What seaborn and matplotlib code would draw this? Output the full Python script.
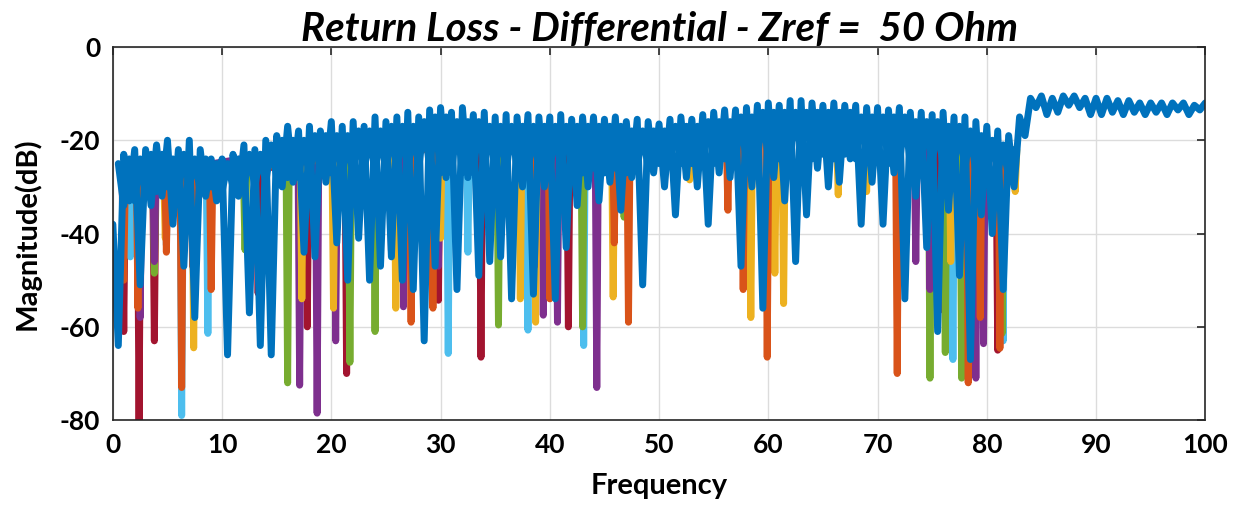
import numpy as np
import pandas as pd
import matplotlib
matplotlib.use("Agg")
import matplotlib.pyplot as plt
import seaborn as sns

blue_freq = np.arange(0, 100.01, 0.5)
blue_db = [
    # 0 - 9.5
    -38, -64, -23, -33, -22, -51, -22, -34, -21, -32, -20, -38, -22, -47, -20, -58, -22, -32, -24, -33,
    # 10 - 19.5
    -24, -66, -23, -32, -21, -57, -22, -64, -20, -66, -19, -30, -17, -29, -18, -44, -17, -45, -18, -29,
    # 20 - 29.5
    -16, -42, -17, -50, -16, -41, -17, -50, -15, -47, -16, -45, -15, -50, -14, -52, -15, -63, -13.5, -47,
    # 30 - 39.5
    -13, -28, -14, -52, -13, -28, -14.5, -49, -14, -46, -15, -45, -14.5, -54, -15, -30, -14.5, -53, -15, -30,
    # 40 - 49.5
    -15, -54, -14.5, -43, -15.5, -34, -15, -30, -15, -33, -15.5, -29, -15, -35, -16, -28, -15.5, -51, -16, -27,
    # 50 - 59.5
    -16.5, -30, -15.5, -36, -15, -28, -15.5, -30, -14.5, -38, -14, -27, -13.5, -28, -13.5, -47, -13, -30, -12.5, -56,
    # 60 - 69.5
    -12, -28, -12.5, -33, -11.5, -46, -11.5, -36, -12, -26, -12.5, -30, -12, -29, -12.5, -24, -12.5, -38, -13, -29,
    # 70 - 79.5
    -13, -38, -13.5, -27, -13, -54, -14, -32, -14, -43, -14.5, -61, -14, -35, -15, -49, -15, -67, -16, -36,
    # 80 - 89.5
    -17, -40, -18, -52, -19, -30, -15, -19, -11, -13, -10.5, -14.5, -11, -14, -10.5, -12.5, -10.5, -13, -11, -14.5,
    # 90 - 100
    -11, -14.5, -11, -14, -11.5, -14.5, -11.5, -14, -12, -14.5, -12, -14, -12, -14.5, -12, -13.5, -12, -14.5, -12.5, -13.5,
    -12,
]

# Second blue trace (same colour in the original), ripple in opposite phase, 0.5 .. 82.5 GHz
blue2_freq = np.arange(0.5, 82.51, 0.5)
blue2_db = [
    -25, -34, -24, -33, -24, -32, -23, -31, -23, -30, -24, -31, -23, -30, -24, -31, -24, -30, -25, -31,
    -25, -30, -24, -30, -23, -30, -23, -29, -21, -28, -20, -28, -20, -28, -20, -28, -19, -27, -19, -27,
    -19, -28, -19, -28, -18, -27, -18, -27, -18, -27, -17, -27, -17, -27, -17, -26, -16, -26, -15, -27,
    -15, -27, -16, -27, -16, -27, -16, -26, -17, -27, -17, -27, -17, -26, -17, -27, -17, -27, -17, -27,
    -17, -26, -17, -27, -17, -27, -17, -26, -17, -27, -17, -26, -17, -27, -18, -26, -18, -26, -18, -25,
    -18, -25, -17, -25, -17, -25, -17, -24, -16, -25, -16, -24, -16, -24, -15, -25, -15, -24, -14, -24,
    -14, -24, -14, -24, -14, -23, -14, -24, -14, -23, -14, -24, -14, -23, -14, -24, -15, -24, -15, -24,
    -15, -25, -15, -25, -15, -25, -16, -25, -16, -25, -16, -26, -17, -26, -17, -26, -18, -27, -19, -27,
    -20, -27, -21, -28, -22,
]

# Other traces: only their notches that reach below the blue band (GHz, dB)
orange_f = [1.0, 2.3, 4.9, 6.3, 7.3, 9.0, 27.3, 29.3, 38.6, 40.0, 45.9, 47.2, 56.3, 57.7, 59.9, 71.8, 78.3, 79.4, 81.2]
orange_db = [-50, -56, -44, -73, -47, -52, -59, -56, -47, -54, -42, -59, -35, -52, -66.5, -70, -72, -58, -64.6]

yellow_f = [4.8, 7.4, 17.3, 20.2, 25.9, 30.0, 37.3, 38.7, 45.8, 52.8, 58.4, 60.6, 61.4, 66.4, 69.0, 76.7, 82.6]
yellow_db = [-41, -64.5, -54, -56, -56, -41, -54, -59, -53.6, -28.5, -58, -48.5, -55, -31.7, -31, -46, -31]

purple_f = [2.5, 3.8, 17.1, 18.7, 20.4, 26.6, 29.8, 39.4, 40.7, 44.3, 73.5, 74.8, 79.0, 79.7]
purple_db = [-58, -46, -72.5, -78.5, -63, -55.7, -47, -57.5, -59, -73, -46, -52, -71, -63.6]

green_f = [3.8, 12.1, 16.0, 21.7, 24.0, 35.3, 43.0, 46.8, 74.8, 76.2, 77.7, 81.4]
green_db = [-48.5, -43.5, -72, -67.6, -61, -59.6, -60, -36.5, -71, -65.5, -71, -61.4]

lightblue_f = [1.6, 4.9, 6.3, 8.7, 30.7, 32.5, 38.0, 43.1, 76.9, 81.5]
lightblue_db = [-45, -42.5, -79, -61.4, -65.7, -44, -60.7, -64, -67, -63]

darkred_f = [1.0, 2.4, 3.8, 13.3, 17.8, 21.4, 25.5, 29.8, 33.7, 41.7, 75.7, 78.0, 81.0]
darkred_db = [-61, -80, -63, -52.8, -60, -70, -43.6, -54.3, -66.5, -60, -56.4, -69, -65]

# level (dB) the hidden part of a notched trace sits at, by frequency band (upper edge GHz)
band_edge = [15, 30, 78, 100]
band_level = [-27, -22, -19, -22]


def hidden_level(f):
    for edge, lvl in zip(band_edge, band_level):
        if f < edge:
            return lvl
    return band_level[-1]


def notch_trace(name, freqs, dbs, half=0.15):
    rows = []
    for f, d in zip(freqs, dbs):
        lvl = hidden_level(f)
        rows += [(name, f - half, lvl), (name, f, d), (name, f + half, lvl)]
    return rows


rows = []
rows += notch_trace('darkred', darkred_f, darkred_db)
rows += notch_trace('lightblue', lightblue_f, lightblue_db)
rows += notch_trace('green', green_f, green_db)
rows += notch_trace('purple', purple_f, purple_db)
rows += notch_trace('yellow', yellow_f, yellow_db)
rows += notch_trace('orange', orange_f, orange_db)
rows += [('blue2', f, d) for f, d in zip(blue2_freq, blue2_db)]
rows += [('blue', f, d) for f, d in zip(blue_freq, blue_db)]
df = pd.DataFrame(rows, columns=['trace', 'freq', 'db'])

order = ['darkred', 'lightblue', 'green', 'purple', 'yellow', 'orange', 'blue2', 'blue']
palette = {'blue': '#0072BD', 'blue2': '#0072BD', 'orange': '#D95319', 'yellow': '#EDB120',
           'purple': '#7E2F8E', 'green': '#77AC30', 'lightblue': '#4DBEEE', 'darkred': '#A2142F'}

sns.set_theme(style="white")
plt.rcParams['font.family'] = ['Lato', 'DejaVu Sans']
plt.rcParams['axes.unicode_minus'] = False

fig = plt.figure(figsize=(12.4, 5.05), dpi=100)
ax = fig.add_axes([0.091, 0.168, 0.881, 0.739])

for name in order:
    sub = df[df['trace'] == name]
    sns.lineplot(data=sub, x='freq', y='db', color=palette[name], lw=5, ax=ax,
                 estimator=None, sort=False, legend=False,
                 solid_capstyle='round', solid_joinstyle='round')

ax.set_xlim(0, 100)
ax.set_ylim(-80, 0)
ax.set_xticks(np.arange(0, 101, 10))
ax.set_yticks(np.arange(-80, 1, 20))
ax.grid(True, color='#dcdcdc', lw=1)
ax.set_axisbelow(True)
for s in ax.spines.values():
    s.set_color('#262626')
    s.set_linewidth(1.2)
ax.tick_params(direction='in', top=True, right=True, length=6, width=1.2, colors='#262626',
               labelsize=19, pad=9)
for lab in ax.get_xticklabels() + ax.get_yticklabels():
    lab.set_fontweight('bold')
    lab.set_color('black')

ax.set_xlabel('Frequency', fontsize=21, fontweight='bold', color='black', labelpad=12)
ax.set_ylabel('Magnitude(dB)', fontsize=21, fontweight='bold', color='black', labelpad=14)
ax.set_title('Return Loss - Differential - Zref =  50 Ohm', fontsize=29, fontweight='bold',
             fontstyle='italic', color='black', pad=4)

fig.savefig('out.png', dpi=100)
